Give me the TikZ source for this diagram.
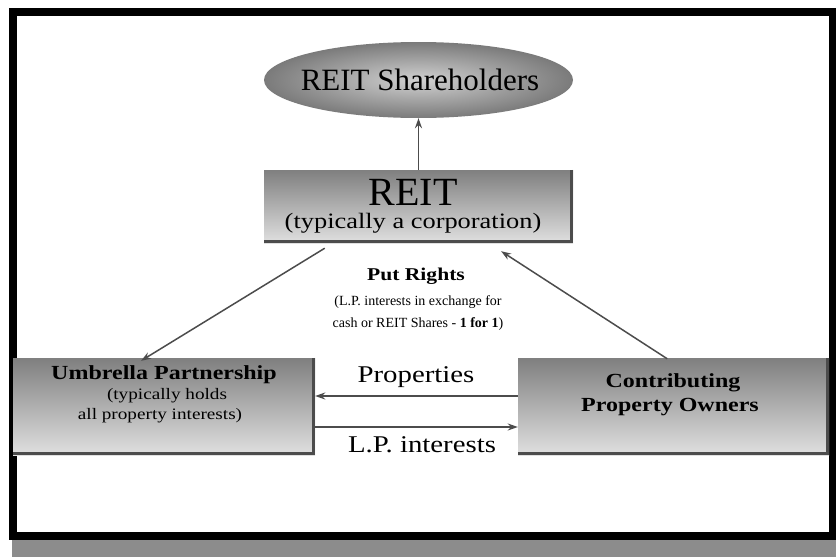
\documentclass[tikz,border=0pt]{standalone}
\usepackage{fontspec}
\setmainfont{Liberation Serif}
\newfontfamily\widefont{Liberation Serif}[FakeStretch=1.2]
\usetikzlibrary{arrows.meta,shapes.geometric,calc}
\tikzset{
  boxfill/.style={top color=black!50, bottom color=black!12, draw=none, inner sep=0pt},
  boxedge/.style={line width=3pt, draw=black!70},
  arr/.style={-{Stealth[length=10pt,width=7pt]}, line width=1.5pt, draw=black!70},
  lbl/.style={inner sep=0pt, text=black},
}
\newcommand{\fs}[1]{\fontsize{#1}{#1}\selectfont}
\begin{document}
\begin{tikzpicture}[x=1pt,y=-1pt]
\useasboundingbox (0,0) rectangle (836,557);
% bottom shadow strip and frame
\fill[black!45] (12,540) rectangle (836,557);
\draw[line width=7.5pt] (13,12) rectangle (832.5,536);

% REIT Shareholders ellipse
\node[ellipse, minimum width=309pt, minimum height=76pt, inner color=black!18, outer color=black!52, inner sep=0pt] (sh) at (418.5,80) {};
\node[lbl] (shT) at (420,80) {\fs{31}REIT Shareholders};

% REIT box
\node[boxfill, minimum width=309pt, minimum height=73pt] (reit) at (418.5,206.5) {};
\draw[boxedge] ([xshift=-1.5pt]reit.north east) -- ([xshift=-1.5pt,yshift=1.5pt]reit.south east) -- ([yshift=1.5pt]reit.south west);
\node[lbl] (reitT) at (413,192) {\fs{40}REIT};
\node[lbl] (reitS) at (413,223) {\widefont\fs{22}(typically a corporation)};

% Umbrella Partnership box
\node[boxfill, minimum width=302pt, minimum height=97pt] (umb) at (164,406.5) {};
\draw[boxedge] ([xshift=-1.5pt]umb.north east) -- ([xshift=-1.5pt,yshift=1.5pt]umb.south east) -- ([yshift=1.5pt]umb.south west);
\node[lbl] (umbT) at (164,375) {\widefont\fs{20}\bfseries Umbrella Partnership};
\node[lbl] (umbS1) at (167,396) {\widefont\fs{16}(typically holds};
\node[lbl] (umbS2) at (160,416) {\widefont\fs{16}all property interests)};

% Contributing Property Owners box
\node[boxfill, minimum width=311pt, minimum height=97pt] (cpo) at (673.5,406.5) {};
\draw[boxedge] ([xshift=-1.5pt]cpo.north east) -- ([xshift=-1.5pt,yshift=1.5pt]cpo.south east) -- ([yshift=1.5pt]cpo.south west);
\node[lbl] (cpoT1) at (673,383) {\widefont\fs{20}\bfseries Contributing};
\node[lbl] (cpoT2) at (670,407) {\widefont\fs{20}\bfseries Property Owners};

% Put Rights label
\node[lbl] (pr1) at (416,276) {\widefont\fs{18}\bfseries Put Rights};
\node[lbl] (pr2) at (418,302) {\fs{14}(L.P. interests in exchange for};
\node[lbl] (pr3) at (418,324) {\fs{14}cash or REIT Shares - \textbf{1 for 1})};

% Properties / L.P. interests labels
\node[lbl] (prop) at (416,377) {\widefont\fs{24}Properties};
\node[lbl] (lpi) at (422,445) {\widefont\fs{24}L.P. interests};

% connectors
\draw[arr] (reit.north) -- (sh.south);
\draw[arr] ($(reit.south west)!0.197!(reit.south east)+(0,-5pt)$) -- ($(umb.north west)!0.424!(umb.north east)+(0,-3pt)$);
\draw[arr] ($(cpo.north west)!0.48!(cpo.north east)+(0,-1pt)$) -- ($(reit.south west)!0.767!(reit.south east)+(0,-8pt)$);
\draw[arr] (cpo.west |- 0,396) -- (umb.east |- 0,396);
\draw[arr] (umb.east |- 0,427) -- (cpo.west |- 0,427);
\end{tikzpicture}
\end{document}
